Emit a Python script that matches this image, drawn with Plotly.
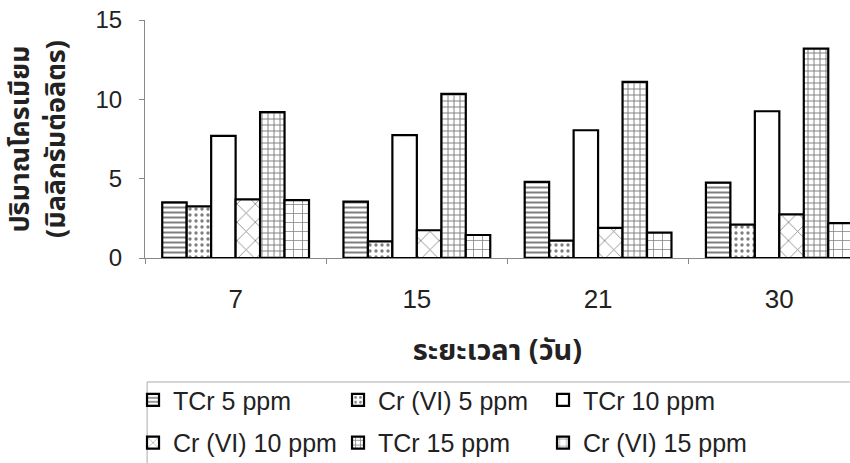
import plotly.graph_objects as go

# Sampling days (x categories)
days = ["7", "15", "21", "30"]

# Chromium content (mg/L) per series
tcr_5 = [3.5, 3.55, 4.8, 4.75]
crvi_5 = [3.25, 1.05, 1.1, 2.1]
tcr_10 = [7.7, 7.75, 8.05, 9.25]
crvi_10 = [3.7, 1.75, 1.9, 2.75]
tcr_15 = [9.2, 10.35, 11.1, 13.2]
crvi_15 = [3.65, 1.45, 1.6, 2.2]

series_names = ["TCr 5 ppm", "Cr (VI) 5 ppm", "TCr 10 ppm",
                "Cr (VI) 10 ppm", "TCr 15 ppm", "Cr (VI) 15 ppm"]
series_values = [tcr_5, crvi_5, tcr_10, crvi_10, tcr_15, crvi_15]
# first three entries in the upper legend row, the rest in the lower row
legend_rows = ["legend", "legend", "legend", "legend2", "legend2", "legend2"]

# Black-and-white fill patterns for each series
patterns = [
    dict(shape="-", size=5, solidity=0.4),
    dict(shape=".", size=6, solidity=0.25),
    dict(shape="", size=8, solidity=0.2),
    dict(shape="x", size=13, solidity=0.12),
    dict(shape="+", size=6, solidity=0.3),
    dict(shape="+", size=9, solidity=0.16),
]

LATIN = "Arial, 'Liberation Sans', sans-serif"
THAI = "Tahoma, 'Noto Sans Thai', 'Loma', 'Garuda', 'DejaVu Sans', sans-serif"

fig = go.Figure()
for name, vals, pat, lg in zip(series_names, series_values, patterns, legend_rows):
    fig.add_trace(go.Bar(
        x=days, y=vals, name=name, legend=lg,
        marker=dict(
            color="white",
            line=dict(color="black", width=2.2),
            pattern=dict(fgcolor="black", bgcolor="white", fillmode="overlay", **pat),
        ),
    ))

legend_style = dict(
    orientation="h",
    x=-0.017, xanchor="left", yanchor="middle",
    bgcolor="rgba(0,0,0,0)", borderwidth=0,
    font=dict(family=LATIN, size=25, color="#222"),
    entrywidth=160, entrywidthmode="pixels",
    itemwidth=30,
)

fig.update_layout(
    width=850, height=463,
    margin=dict(l=145, r=0, t=20, b=205, autoexpand=False),
    paper_bgcolor="white", plot_bgcolor="white",
    barmode="group", bargap=0.19, bargroupgap=0,
    font=dict(family=LATIN, size=24, color="#222"),
    showlegend=True,
    legend=dict(y=-0.597, **legend_style),
    legend2=dict(y=-0.777, **legend_style),
    # frame around the legend area
    shapes=[dict(
        type="rect", xref="paper", yref="paper",
        x0=0.003, x1=1.02, y0=-0.95, y1=-0.521,
        line=dict(color="#aaa", width=1), fillcolor="rgba(0,0,0,0)",
        layer="below",
    )],
    xaxis=dict(
        type="category",
        range=[-0.5, 3.39],
        showline=True, linecolor="#888", linewidth=1,
        ticks="outside", tickson="boundaries", ticklen=5, tickcolor="#888",
        ticklabelstandoff=18,
        showgrid=False, zeroline=False,
        tickfont=dict(family=LATIN, size=26, color="#222"),
        title=dict(text="<b>ระยะเวลา (วัน)</b>", standoff=26,
                   font=dict(family=THAI, size=29, color="#222")),
    ),
    yaxis=dict(
        range=[0, 15], tickvals=[0, 5, 10, 15],
        showline=True, linecolor="#888", linewidth=1,
        ticks="outside", ticklen=5, tickcolor="#888",
        ticklabelstandoff=12,
        showgrid=False, zeroline=False,
        tickfont=dict(family=LATIN, size=24, color="#222"),
        title=dict(text="<b>ปริมาณโครเมียม<br>(มิลลิกรัมต่อลิตร)</b>", standoff=22,
                   font=dict(family=THAI, size=27, color="#222")),
    ),
)

fig.write_html("out.html")
